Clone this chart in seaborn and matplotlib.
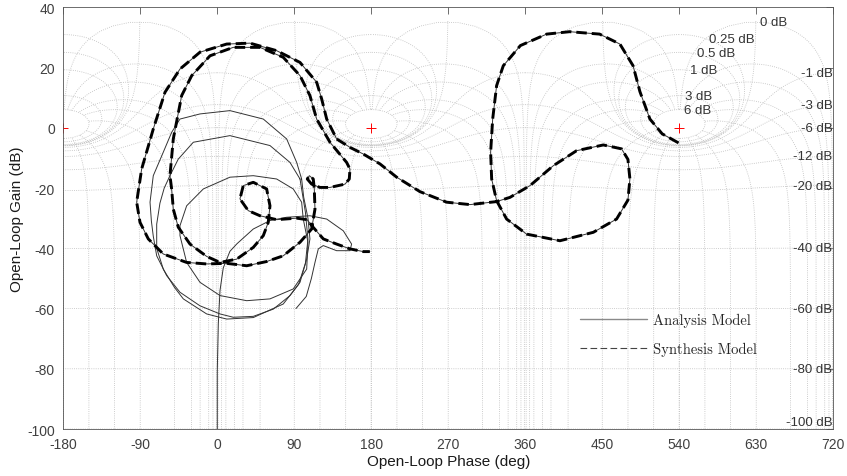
import numpy as np
import pandas as pd
import matplotlib
matplotlib.use('Agg')
import matplotlib.pyplot as plt
import seaborn as sns
from matplotlib.lines import Line2D

# ---- values (open-loop phase in deg, open-loop gain in dB) ----

# Synthesis model (thick dashed)
syn_phase = [539, 520, 505.7, 494, 486, 470.6, 446.9, 411.8, 385, 354.3, 334.3, 326.5, 321.9, 319.5,
             320.7, 326.5, 338.2, 361.6, 400.5, 439.5, 466.7, 480, 482.3, 480, 472.6, 451.2, 420,
             392.7, 365.5, 342.1, 326.5, 295.4, 268.1, 236.9, 209.7, 190.2, 170.6, 155.1, 139.5,
             127.9, 122, 116.2, 96.7, 69.4, 38.2, 11, -20.2, -43.6, -61.1, -74.8, -88.4, -94.2,
             -90.3, -80.6, -63.1, -35.8, -12.4, 11, 34.4, 57.7, 77.1, 96.7, 110.3, 114.2, 113.4,
             112.2, 107.6, 105.2, 110.3, 120, 131.7, 149.3, 154.3, 155.1, 151.2, 131.7, 116.2,
             108.3, 96.7, 77.1, 49.9, 18.7, -8.5, -29.9, -41.6, -51.4, -55.3, -53.3, -51.4, -45.6,
             -31.9, -12.4, 3.2, 22.7, 42.1, 53.8, 59.6, 61.6, 57.7, 42.1, 30.4, 26.5, 36.2, 49.9,
             69.4, 92.8, 105, 112, 124, 139.5, 155.1, 170.6, 178.3]
syn_gain = [-5.0, -2.0, 2.9, 12, 20.6, 27.8, 31.1, 31.9, 31.1, 27.3, 20.6, 14.0, 2.9, -8.1,
            -17.0, -24.2, -30.3, -35.3, -37.5, -34.7, -30.3, -24, -17, -10.5, -7.0, -5.7, -7.6,
            -12.6, -19.2, -23.1, -24.5, -25.5, -24.7, -21.2, -16.4, -12.0, -8.7, -6.5, -3.7,
            2.9, 9.6, 15.1, 21.7, 25.6, 28.1, 27.8, 25.1, 19.5, 11.8, -0.4, -13.7, -24.7,
            -31.4, -36.9, -41.9, -44.7, -45.2, -45.0, -45.8, -44.4, -42.5, -38.0, -33.6, -27.0, -20.3,
            -17.0, -15.9, -17.0, -18.7, -19.8, -19.8, -18.7, -17, -13.7, -11.5, -4.8, 2.9,
            10.7, 17.3, 23.4, 26.7, 26.7, 23.9, 17.3, 10.7, -3.7, -15.9, -20.4, -27, -33,
            -38.6, -42.7, -44.7, -43.6, -39.7, -35.8, -31.4, -25.9, -20.3, -18.1, -19.2, -23.6, -27.5,
            -29.2, -30.5, -30.0, -30.5, -33, -36.9, -38.6, -40.2, -41.1, -41.1]

# Analysis model (thin solid), several loops
an1_phase = [98.6, 92.8, 81.1, 53.8, 14.8, -20.2, -43.6, -53.3, -63.1, -74.8, -78.6, -77, -74.8,
             -70.8, -59.1, -43.6, -20.2, 3.2, 18.7, 42.1, 65.5, 85, 96.7, 104.5, 108.3, 106, 101, 98.6]
an1_gain = [-17, -11.5, -3.7, 2.9, 5.7, 4.6, 2.9, -1.5, -8.1, -15.9, -24.7, -31, -36,
            -42.5, -49.1, -54.6, -59.1, -61.8, -62.9, -62.6, -60.2, -55.7, -51.3, -43.6, -36.9, -30, -23, -17]

an2_phase = [96.7, 85, 61.6, 14.8, -28, -45.6, -55.3, -62, -67, -70.8, -70.8, -63, -50, -39.7,
             -12.4, 11, 42.1, 77.1, 95, 103, 106, 103, 96.7]
an2_gain = [-17, -11.5, -5.9, -2.6, -4.8, -10.4, -15.9, -20, -25, -32, -40, -47, -53, -56.8,
            -61.8, -63.5, -63, -58.5, -52, -45, -37, -28, -17]

an3_phase = [100.5, 98.6, 88.8, 69.4, 42.1, 14.8, -16.3, -35.8, -43.6, -43.6, -35.8, -20.2, 3.2,
             34.4, 61.6, 88.8, 104.5, 106, 100.5]
an3_gain = [-30.3, -24.7, -20.3, -17, -15.9, -16.4, -20.3, -25.9, -32.5, -35.8, -44.7, -51.3, -55.7,
            -57.4, -56.8, -53.5, -46.9, -38, -30.3]

an4_phase = [0, 0, 1.2, 3.2, 7, 14.8, 23, 42.1, 61.6, 81.1, 108.3, 127.9, 147.3, 157, 155.1, 139.5,
             123.9, 118.1, 114.2, 110, 104, 92]
an4_gain = [-100, -81, -65, -54, -46.5, -41, -38.5, -33.6, -30.8, -29.7, -29.2, -30.3, -34.2, -38.6,
            -40.8, -40.8, -39.1, -40.2, -44.7, -50, -56, -60]

# Nichols grid: closed-loop gain (dB) and closed-loop phase (deg) contours
cl_gain_db = [6, 3, 1, 0.5, 0.25, 0, -1, -3, -6, -12, -20, -40, -60, -80, -100]
cl_phase_deg = [1, 5, 10, 20, 30, 50, 90, 120, 150, 180]
crit_phase = [-180, 180, 540]
crit_gain = [0, 0, 0]

top_labels = ['6 dB', '3 dB', '1 dB', '0.5 dB', '0.25 dB', '0 dB']
right_labels = ['-1 dB', '-3 dB', '-6 dB', '-12 dB', '-20 dB', '-40 dB', '-60 dB', '-80 dB', '-100 dB']

# ---- figure ----
sns.set_style('white')
plt.rcParams['font.family'] = ['Liberation Sans', 'DejaVu Sans']
plt.rcParams['axes.unicode_minus'] = False

fig = plt.figure(figsize=(8.47, 4.77), dpi=100)
ax = fig.add_axes([0.0747, 0.0985, 0.9091, 0.8841])

grid_kw = dict(color='#bcbcbc', lw=0.6, ls=(0, (1, 1.6)), zorder=1)
offsets = [-720, -360, 0, 360, 720]

for mdb in cl_gain_db:
    M = 10 ** (mdb / 20)
    th = np.linspace(1e-4, 2 * np.pi - 1e-4, 3000)
    T = M * np.exp(1j * th)
    G = T / (1 - T)
    ph = np.degrees(np.unwrap(np.angle(G)))
    g = 20 * np.log10(np.abs(G))
    if M >= 1:
        ph = ph - 360 * np.round((ph.mean() - 180) / 360)
        keep = g <= 36
        ph, g = ph[keep], g[keep]
    for off in offsets:
        ax.plot(ph + off, g, **grid_kw)

m = np.logspace(-6, np.log10(2), 2000)
for p in cl_phase_deg:
    for s in (1, -1):
        T = m * np.exp(1j * np.radians(s * p))
        G = T / (1 - T)
        ph = np.degrees(np.unwrap(np.angle(G)))
        g = 20 * np.log10(np.abs(G))
        for off in offsets:
            ax.plot(ph + off, g, **grid_kw)

ax.plot(crit_phase, crit_gain, '+', color='red', ms=7, mew=0.7, zorder=2)

# curves
curves = [(an1_phase, an1_gain), (an2_phase, an2_gain), (an3_phase, an3_gain),
          (an4_phase, an4_gain), (syn_phase, syn_gain)]
an = pd.concat([pd.DataFrame({'phase': p, 'gain': g, 'curve': i})
                for i, (p, g) in enumerate(curves)], ignore_index=True)
syn = pd.DataFrame({'phase': syn_phase, 'gain': syn_gain})

sns.lineplot(data=an, x='phase', y='gain', units='curve', estimator=None, sort=False,
             color='#333333', lw=0.7, legend=False, ax=ax, zorder=3)
sns.lineplot(data=syn, x='phase', y='gain', estimator=None, sort=False,
             color='black', lw=2.1, linestyle=(0, (3.6, 1.7)), legend=False, ax=ax, zorder=4)

# grid labels
lab_kw = dict(fontsize=9.5, color='#333333', va='center', zorder=5)
top_pos = [(545, 5.9), (547, 10.7), (553, 19.2), (561, 24.7), (575, 29.5), (634, 35.0)]
for t, (x, y) in zip(top_labels, top_pos):
    ax.text(x, y, t, ha='left', **lab_kw)
right_y = [18.2, 7.6, -0.2, -9.3, -19.2, -40, -60.2, -80.1, -97.6]
for t, y in zip(right_labels, right_y):
    ax.text(719, y, t, ha='right', **lab_kw)

ax.set_xlim(-180, 720)
ax.set_ylim(-100, 40)
ax.set_xticks(range(-180, 721, 90))
ax.set_yticks(range(-100, 41, 20))
ax.tick_params(direction='in', top=True, right=True, length=5, width=0.6,
               color='#555555', labelcolor='#404040', labelsize=10, pad=6)
for sp in ax.spines.values():
    sp.set_color('#555555')
    sp.set_linewidth(0.6)
ax.set_xlabel('Open-Loop Phase (deg)', fontsize=11, color='#1a1a1a', labelpad=2)
ax.set_ylabel('Open-Loop Gain (dB)', fontsize=11, color='#1a1a1a', labelpad=2)

handles = [Line2D([], [], color='#8a8a8a', lw=1.0),
           Line2D([], [], color='#444444', lw=0.8, ls=(0, (6, 3)))]
ax.legend(handles, ['Analysis Model', 'Synthesis Model'], loc='upper left',
          bbox_to_anchor=(580 / 847, 1 - 314 / 477), bbox_transform=fig.transFigure,
          frameon=False, borderpad=0, borderaxespad=0, handlelength=4.6, handletextpad=0.4,
          labelspacing=1.0, prop={'family': 'cmr10', 'size': 10.5})

fig.savefig('out.png', dpi=100)
